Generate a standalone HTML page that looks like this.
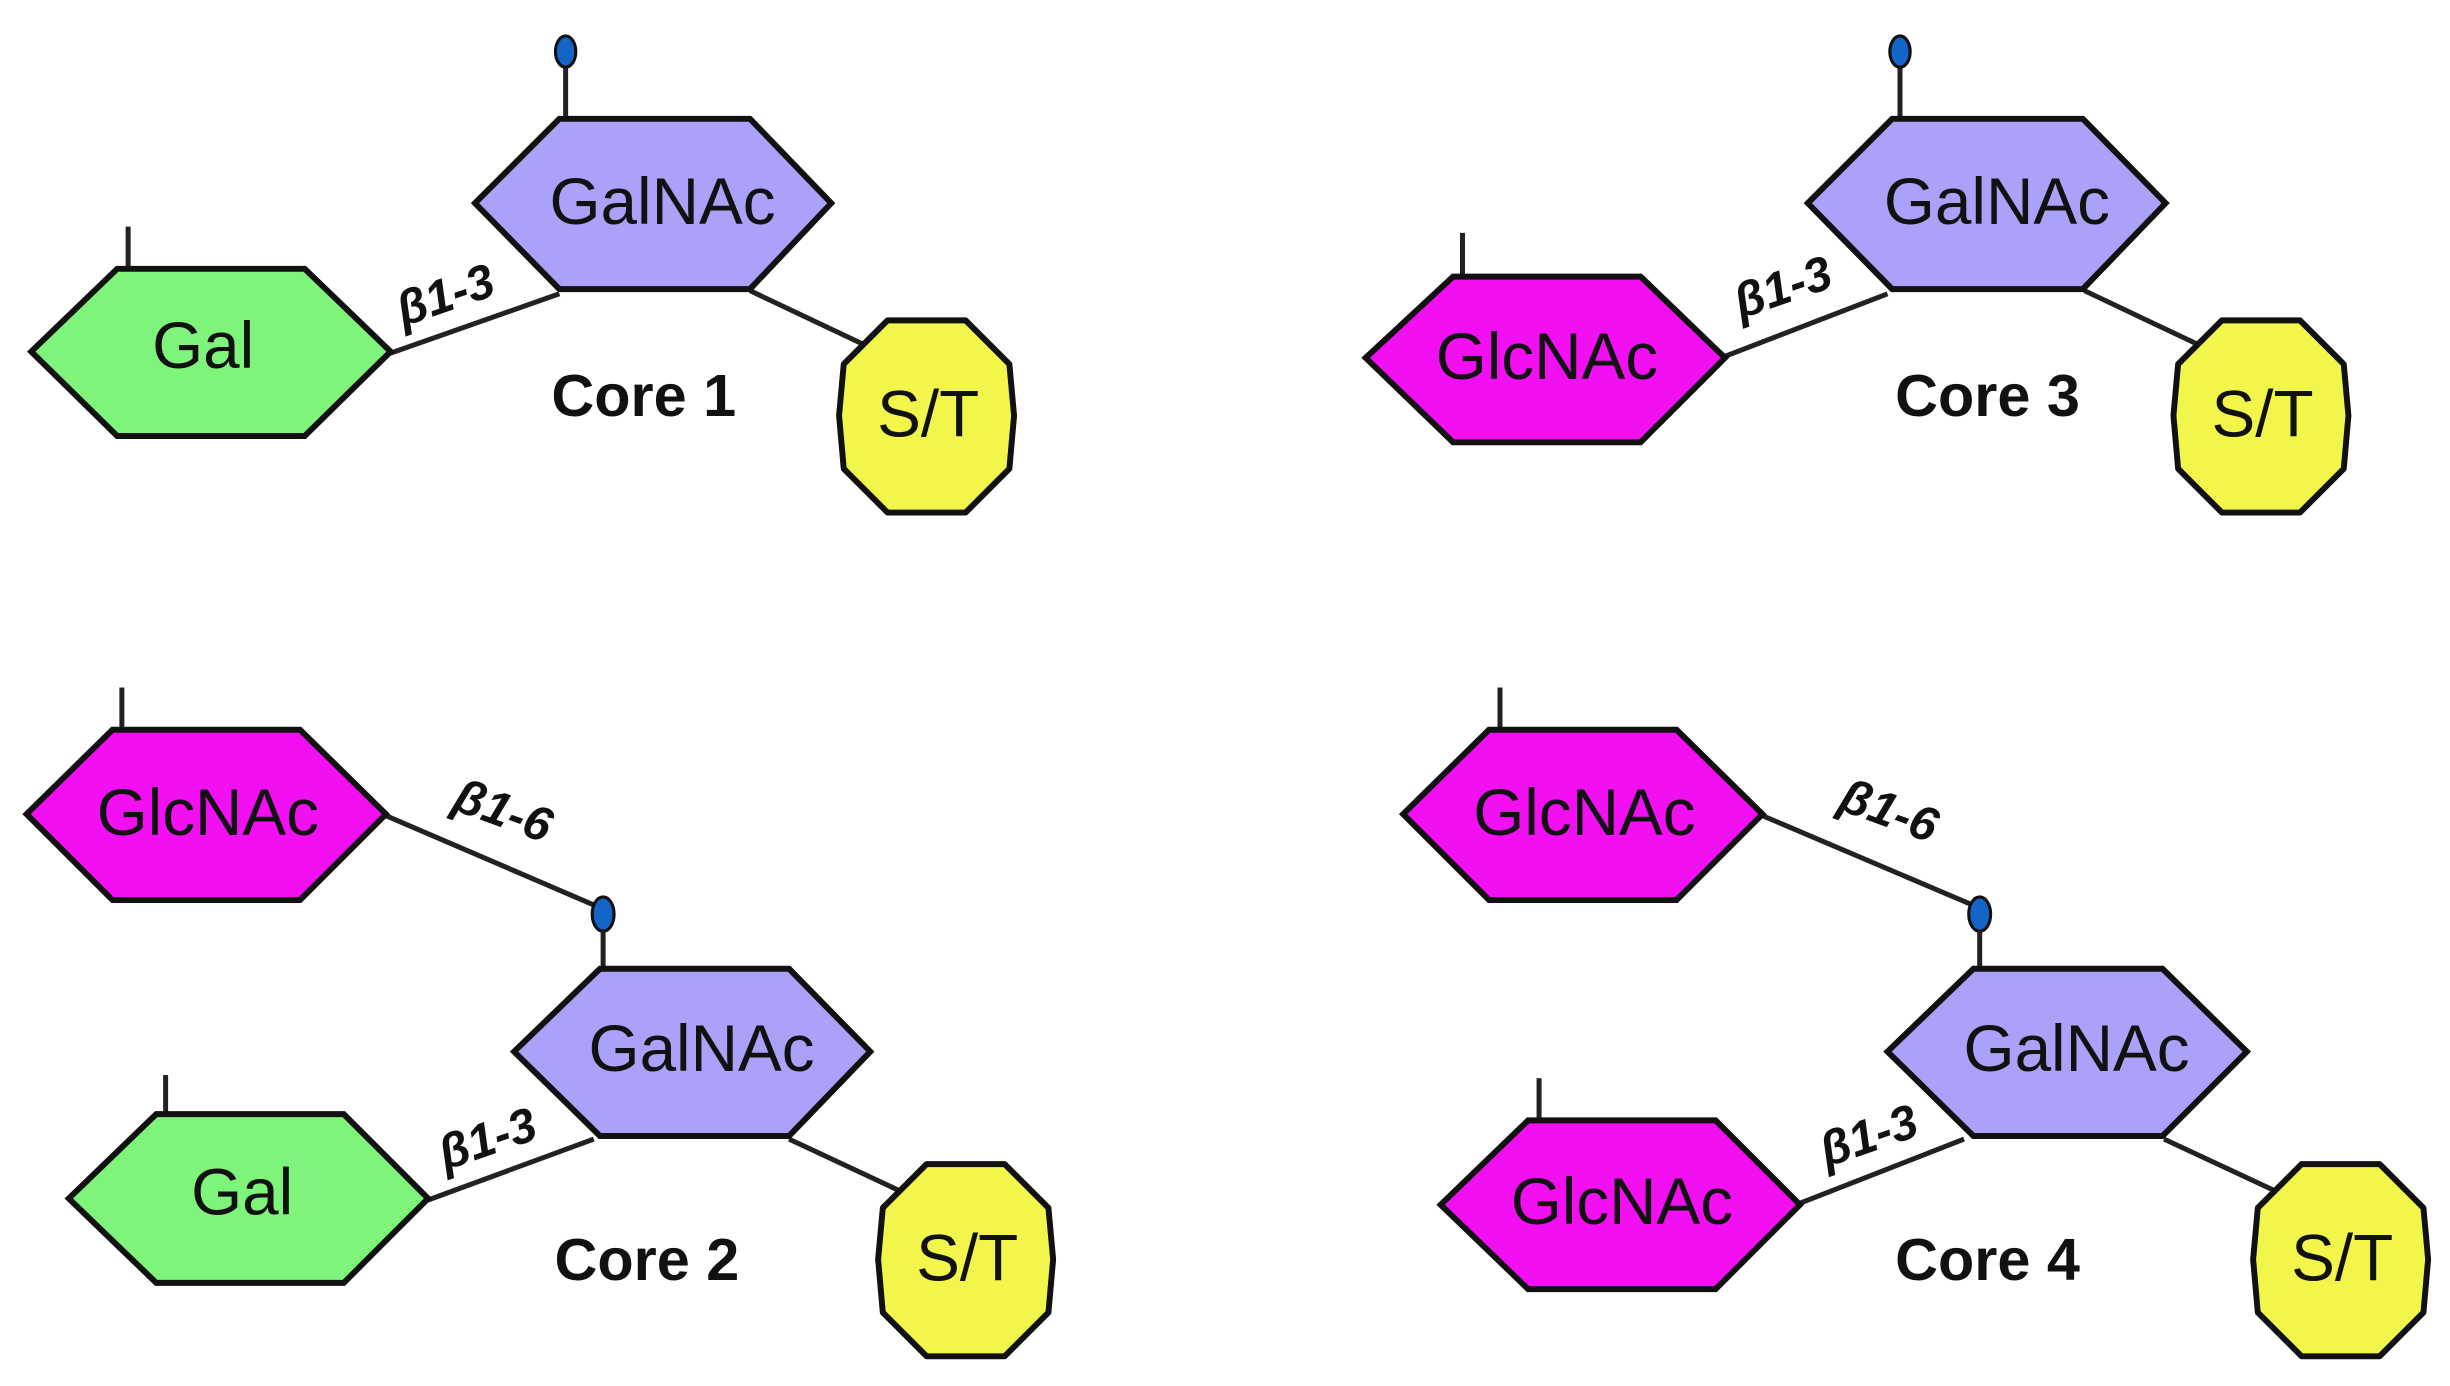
<!DOCTYPE html>
<html><head><meta charset="utf-8"><style>
html,body{margin:0;padding:0;background:#fff;}
svg{display:block;}
.t{font-family:"Liberation Sans",sans-serif;font-size:42px;fill:#111;text-anchor:middle;dominant-baseline:central;}
.c{font-family:"Liberation Sans",sans-serif;font-size:38px;font-weight:bold;fill:#111;text-anchor:middle;dominant-baseline:central;}
.b{font-family:"Liberation Sans",sans-serif;font-size:31px;font-weight:bold;font-style:italic;fill:#111;text-anchor:middle;dominant-baseline:central;}
.s{stroke:#111;stroke-width:3.8;stroke-linejoin:miter;}
.o{stroke:#111;stroke-width:3.8;stroke-linejoin:round;}
.l{stroke:#222;stroke-width:3.2;}
</style></head><body>
<svg width="2450" height="1386" viewBox="0 0 1568 887" xmlns="http://www.w3.org/2000/svg">
<!-- CORE 1 -->
<line class="l" x1="362" y1="75" x2="362" y2="42"/>
<ellipse cx="362" cy="33" rx="6.5" ry="10" fill="#1565c8" stroke="#111" stroke-width="2"/>
<line class="l" x1="82" y1="145" x2="82" y2="172"/>
<line class="l" x1="250" y1="226" x2="358" y2="188"/>
<line class="l" x1="480" y1="186" x2="556" y2="222"/>
<polygon class="s" fill="#aaa2f8" points="304,130 358,76 480,76 532,130 480,185 358,185"/>
<text class="t" x="424" y="129">GalNAc</text>
<polygon class="s" fill="#7ff47a" points="20,225 75,172 195,172 250,225 195,279 75,279"/>
<text class="t" x="130" y="221">Gal</text>
<polygon class="o" fill="#f2f64a" points="568,205 618,205 646,233 649,266 646,300 618,328 568,328 540,300 537,266 540,233"/>
<text class="t" x="594" y="265">S/T</text>
<text class="c" x="412" y="253">Core 1</text>
<text class="b" x="285" y="189" transform="rotate(-19 285 189)">β1-3</text>

<!-- CORE 3 -->
<line class="l" x1="1216" y1="75" x2="1216" y2="42"/>
<ellipse cx="1216" cy="33" rx="6.5" ry="10" fill="#1565c8" stroke="#111" stroke-width="2"/>
<line class="l" x1="936" y1="149" x2="936" y2="177"/>
<line class="l" x1="1104" y1="228" x2="1208" y2="188"/>
<line class="l" x1="1334" y1="186" x2="1410" y2="222"/>
<polygon class="s" fill="#aaa2f8" points="1157,130 1211,76 1333,76 1386,130 1333,185 1211,185"/>
<text class="t" x="1278" y="129">GalNAc</text>
<polygon class="s" fill="#f20ff2" points="874,229 930,177 1050,177 1104,229 1050,283 930,283"/>
<text class="t" x="990" y="228">GlcNAc</text>
<polygon class="o" fill="#f2f64a" points="1422,205 1472,205 1500,233 1503,266 1500,300 1472,328 1422,328 1394,300 1391,266 1394,233"/>
<text class="t" x="1448" y="265">S/T</text>
<text class="c" x="1272" y="253">Core 3</text>
<text class="b" x="1141" y="184" transform="rotate(-19 1141 184)">β1-3</text>

<!-- CORE 2 -->
<line class="l" x1="78" y1="440" x2="78" y2="467"/>
<line class="l" x1="247" y1="522" x2="382" y2="580"/>
<ellipse cx="386" cy="585" rx="7" ry="11" fill="#1565c8" stroke="#111" stroke-width="2"/>
<line class="l" x1="386" y1="596" x2="386" y2="620"/>
<line class="l" x1="106" y1="688" x2="106" y2="713"/>
<line class="l" x1="274" y1="768" x2="380" y2="729"/>
<line class="l" x1="505" y1="729" x2="582" y2="765"/>
<polygon class="s" fill="#f20ff2" points="17,521 72,467 192,467 247,521 192,576 72,576"/>
<text class="t" x="133" y="520">GlcNAc</text>
<polygon class="s" fill="#aaa2f8" points="329,673 384,620 505,620 557,673 505,727 384,727"/>
<text class="t" x="449" y="671">GalNAc</text>
<polygon class="s" fill="#7ff47a" points="44,767 100,713 220,713 274,767 220,821 100,821"/>
<text class="t" x="155" y="763">Gal</text>
<polygon class="o" fill="#f2f64a" points="593,745 643,745 671,773 674,806 671,840 643,868 593,868 565,840 562,806 565,773"/>
<text class="t" x="619" y="805">S/T</text>
<text class="c" x="414" y="806">Core 2</text>
<text class="b" x="322" y="519" transform="rotate(20 322 519)">β1-6</text>
<text class="b" x="312" y="729" transform="rotate(-19 312 729)">β1-3</text>

<!-- CORE 4 -->
<line class="l" x1="960" y1="440" x2="960" y2="467"/>
<line class="l" x1="1128" y1="522" x2="1262" y2="579"/>
<ellipse cx="1267" cy="585" rx="7" ry="11" fill="#1565c8" stroke="#111" stroke-width="2"/>
<line class="l" x1="1267" y1="596" x2="1267" y2="620"/>
<line class="l" x1="985" y1="690" x2="985" y2="717"/>
<line class="l" x1="1152" y1="770" x2="1257" y2="729"/>
<line class="l" x1="1385" y1="729" x2="1460" y2="764"/>
<polygon class="s" fill="#f20ff2" points="898,521 953,467 1073,467 1128,521 1073,576 953,576"/>
<text class="t" x="1014" y="520">GlcNAc</text>
<polygon class="s" fill="#aaa2f8" points="1208,673 1263,620 1384,620 1438,673 1384,727 1263,727"/>
<text class="t" x="1329" y="671">GalNAc</text>
<polygon class="s" fill="#f20ff2" points="922,771 978,717 1098,717 1152,771 1098,825 978,825"/>
<text class="t" x="1038" y="769">GlcNAc</text>
<polygon class="o" fill="#f2f64a" points="1473,745 1523,745 1551,773 1554,806 1551,840 1523,868 1473,868 1445,840 1442,806 1445,773"/>
<text class="t" x="1499" y="805">S/T</text>
<text class="c" x="1272" y="806">Core 4</text>
<text class="b" x="1209" y="519" transform="rotate(20 1209 519)">β1-6</text>
<text class="b" x="1196" y="727" transform="rotate(-19 1196 727)">β1-3</text>
</svg>
</body></html>
